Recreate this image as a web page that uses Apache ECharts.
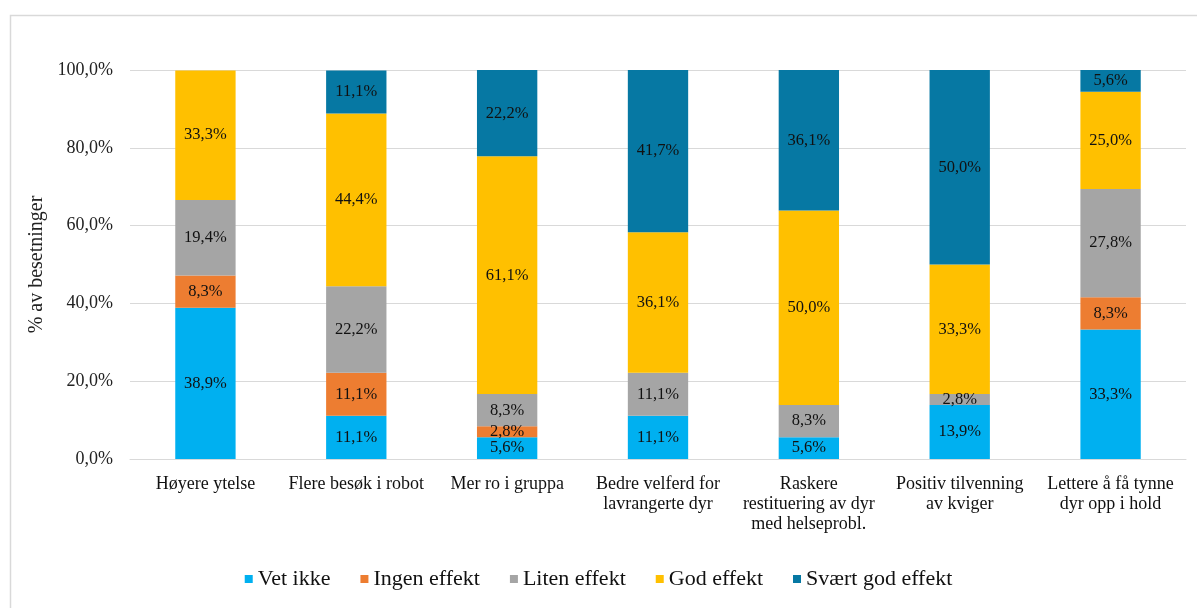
<!DOCTYPE html>
<html>
<head>
<meta charset="utf-8">
<script src="https://cdn.jsdelivr.net/npm/echarts@6/dist/echarts.min.js"></script>
<style>
  html, body { margin: 0; padding: 0; background: #fff; }
  #chart { width: 1197px; height: 608px; }
</style>
</head>
<body>
<div id="chart"></div>
<script>
// Categories (x axis) and share of farms per answer, in percent
const categories = [
  'Høyere ytelse',
  'Flere besøk i robot',
  'Mer ro i gruppa',
  'Bedre velferd for\nlavrangerte dyr',
  'Raskere\nrestituering av dyr\nmed helseprobl.',
  'Positiv tilvenning\nav kviger',
  'Lettere å få tynne\ndyr opp i hold'
];
const vetIkke      = [38.9, 11.1, 5.6, 11.1, 5.6, 13.9, 33.3];
const ingenEffekt  = [8.3, 11.1, 2.8, 0, 0, 0, 8.3];
const litenEffekt  = [19.4, 22.2, 8.3, 11.1, 8.3, 2.8, 27.8];
const godEffekt    = [33.3, 44.4, 61.1, 36.1, 50.0, 33.3, 25.0];
const svaertGod    = [0, 11.1, 22.2, 41.7, 36.1, 50.0, 5.6];
const yTicks = [0, 20, 40, 60, 80, 100];

const seriesDefs = [
  { name: 'Vet ikke', data: vetIkke, color: '#00B0F0' },
  { name: 'Ingen effekt', data: ingenEffekt, color: '#ED7D31' },
  { name: 'Liten effekt', data: litenEffekt, color: '#A5A5A5' },
  { name: 'God effekt', data: godEffekt, color: '#FFC000' },
  { name: 'Svært god effekt', data: svaertGod, color: '#0678A3' }
];

const font = '"Liberation Serif", "Times New Roman", serif';
const pct = v => v.toFixed(1).replace('.', ',') + '%';

const chart = echarts.init(document.getElementById('chart'), null, { renderer: 'canvas' });
chart.setOption({
  animation: false,
  textStyle: { fontFamily: font },
  graphic: [{
    type: 'rect',
    shape: { x: 10.5, y: 15.5, width: 1300, height: 700 },
    style: { fill: 'none', stroke: '#d9d9d9', lineWidth: 1.5 },
    silent: true
  }],
  grid: { left: 130, right: 11, top: 70, bottom: 149, containLabel: false },
  legend: {
    bottom: 13,
    left: 'center',
    itemWidth: 8,
    itemHeight: 8,
    itemGap: 30,
    icon: 'rect',
    textStyle: { fontFamily: font, fontSize: 22, color: '#111' },
    data: seriesDefs.map(s => s.name)
  },
  xAxis: {
    type: 'category',
    data: categories,
    axisLine: { lineStyle: { color: '#d9d9d9', width: 1 } },
    axisTick: { show: false },
    axisLabel: {
      interval: 0,
      margin: 15,
      fontFamily: font,
      fontSize: 18,
      lineHeight: 20,
      color: '#111'
    }
  },
  yAxis: {
    type: 'value',
    min: 0,
    max: 100,
    interval: 20,
    name: '% av besetninger',
    nameLocation: 'middle',
    nameGap: 72,
    nameTextStyle: { fontFamily: font, fontSize: 20, color: '#222' },
    axisLine: { show: false },
    axisTick: { show: false },
    splitLine: { lineStyle: { color: '#d9d9d9', width: 1 } },
    axisLabel: {
      margin: 17,
      fontFamily: font,
      fontSize: 18,
      color: '#222',
      formatter: v => yTicks.includes(v) ? pct(v) : ''
    }
  },
  series: seriesDefs.map(s => ({
    name: s.name,
    type: 'bar',
    stack: 'total',
    barWidth: '40%',
    data: s.data,
    itemStyle: { color: s.color },
    label: {
      show: true,
      position: 'inside',
      fontFamily: font,
      fontSize: 16.5,
      color: '#111',
      formatter: p => p.value > 0 ? pct(p.value) : ''
    }
  })),
  color: seriesDefs.map(s => s.color)
});
</script>
</body>
</html>
